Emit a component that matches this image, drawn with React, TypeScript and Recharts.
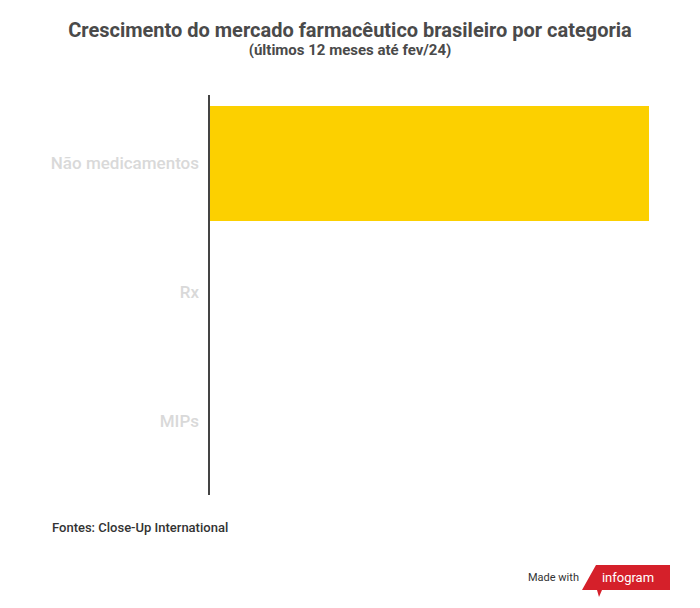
import React from "react";
import { BarChart, Bar, XAxis, YAxis } from "recharts";

const categories = ["Não medicamentos", "Rx", "MIPs"];
const growth = [10, 0, 0];

const data = categories.map((c, i) => ({ name: c, value: growth[i] }));

const font = "Roboto, 'Noto Sans', sans-serif";

export default function App() {
  return (
    <div style={{ position: "absolute", left: 0, top: 0, width: 700, height: 608, background: "#fff", fontFamily: font }}>
      <div style={{ position: "absolute", top: 20, left: 0, width: 700, textAlign: "center", fontSize: 20, fontWeight: 700, color: "#4a4a4a", lineHeight: "20px" }}>
        Crescimento do mercado farmacêutico brasileiro por categoria
      </div>
      <div style={{ position: "absolute", top: 43, left: 0, width: 700, textAlign: "center", fontSize: 15, fontWeight: 700, color: "#4a4a4a", lineHeight: "15px" }}>
        (últimos 12 meses até fev/24)
      </div>
      <div style={{ position: "absolute", top: 0, left: 0 }}>
        <BarChart
          width={700}
          height={608}
          data={data}
          layout="vertical"
          margin={{ top: 95, right: 51, bottom: 113, left: 0 }}
          barCategoryGap={7}
        >
          <XAxis type="number" hide domain={[0, 10]} />
          <YAxis
            type="category"
            dataKey="name"
            width={209}
            tickLine={false}
            tickMargin={4}
            padding={{ top: 4, bottom: 10 }}
            axisLine={{ stroke: "#444", strokeWidth: 2 }}
            tick={{ fill: "#d9d9d9", fontSize: 17, fontWeight: 500, fontFamily: font }}
          />
          <Bar dataKey="value" fill="#fcd000" isAnimationActive={false} />
        </BarChart>
      </div>
      <div style={{ position: "absolute", top: 520, left: 52, fontSize: 13, fontWeight: 500, color: "#333" }}>
        Fontes: Close-Up International
      </div>
      <div style={{ position: "absolute", top: 571, left: 528, fontSize: 11, color: "#333" }}>Made with</div>
      <svg style={{ position: "absolute", left: 580, top: 563 }} width={95} height={38}>
        <polygon points="16,2 90,2 90,27 22,27 19,34 17,27 2,27" fill="#d5202a" />
        <text x={48} y={19} textAnchor="middle" fill="#fff" fontSize={13} fontFamily={font} fontWeight={400}>infogram</text>
      </svg>
    </div>
  );
}
